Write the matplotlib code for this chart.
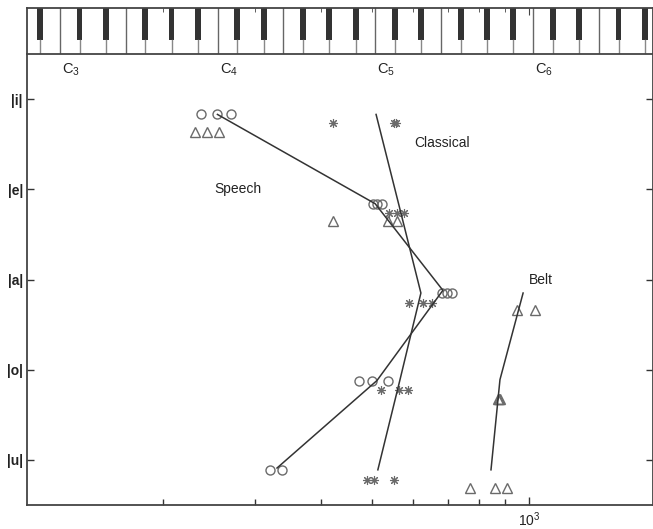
import numpy as np
import matplotlib
matplotlib.use("Agg")
import matplotlib.pyplot as plt
from matplotlib.ticker import FixedLocator, NullFormatter

plt.rcParams['font.family'] = ['Liberation Sans', 'DejaVu Sans']
plt.rcParams['mathtext.default'] = 'regular'

# vowels on the y axis (1 = top)
vowels = ['|i|', '|e|', '|a|', '|o|', '|u|']
vowel_pos = [1, 2, 3, 4, 5]

# row offsets of each group under its vowel
speech_rows = [1.17, 2.16, 3.15, 4.12, 5.11]
classical_rows = [1.27, 2.26, 3.26, 4.23, 5.22]
belt_rows = [1.36, 2.35, 3.34, 4.32, 5.31]

# frequencies (Hz), one list per vowel
speech_f = [[236, 254, 270],
            [503, 512, 523],
            [681, 697, 712],
            [473, 501, 537],
            [320, 337]]
classical_f = [[422, 552, 556],
               [540, 559, 577],
               [589, 627, 652],
               [521, 564, 587],
               [490, 505, 552]]
belt_f = [[230, 243, 256],
          [422, 537, 559],
          [947, 1025],
          [871, 875, 879],
          [770, 860, 907]]

# trend lines (frequency, row)
speech_line_f = [254, 508, 684, 512, 330]
speech_line_y = [1.17, 2.16, 3.12, 4.12, 5.09]
classical_line_f = [510, 563, 621, 566, 514]
classical_line_y = [1.17, 2.16, 3.15, 4.12, 5.11]
belt_line_f = [973, 879, 845]
belt_line_y = [3.15, 4.11, 5.11]

notes = ['C$_3$', 'C$_4$', 'C$_5$', 'C$_6$']
note_f = [130.81, 261.63, 523.25, 1046.5]

fmin, fmax = 110, 1722
W, H = 653, 529
mk = '#6a6a6a'
ln = '#333333'

fig = plt.figure(figsize=(W / 100, H / 100), dpi=100)
ax = fig.add_axes([27 / W, 24 / H, 626 / W, 451 / H])
kb = fig.add_axes([27 / W, (H - 54) / H, 626 / W, 46 / H])

# --- main plot
for fs, rows in zip(speech_f, speech_rows):
    ax.plot(fs, [rows] * len(fs), 'o', ms=6.5, mfc='none', mec=mk, mew=1.0)
for fs, rows in zip(classical_f, classical_rows):
    ax.plot(fs, [rows] * len(fs), ls='none', marker=(8, 2, 0), ms=6.5, mec=mk, mew=0.8)
for fs, rows in zip(belt_f, belt_rows):
    ax.plot(fs, [rows] * len(fs), '^', ms=7.5, mfc='none', mec=mk, mew=1.0)

ax.plot(speech_line_f, speech_line_y, color=ln, lw=1.1)
ax.plot(classical_line_f, classical_line_y, color=ln, lw=1.1)
ax.plot(belt_line_f, belt_line_y, color=ln, lw=1.1)

ax.text(278, 2.0, 'Speech', fontsize=10, ha='center', va='center', color='#222222')
ax.text(681, 1.49, 'Classical', fontsize=10, ha='center', va='center', color='#222222')
ax.text(1053, 3.0, 'Belt', fontsize=10, ha='center', va='center', color='#222222')
for lab, f in zip(notes, note_f):
    ax.text(f * 1.02, 0.67, lab, fontsize=10.5, ha='center', va='center', color='#222222')

ax.set_xscale('log')
ax.set_xlim(fmin, fmax)
ax.set_ylim(5.5, 0.5)
ax.xaxis.set_major_locator(FixedLocator([1000]))
ax.xaxis.set_minor_locator(FixedLocator([200, 300, 400, 500, 600, 700, 800, 900]))
ax.xaxis.set_minor_formatter(NullFormatter())
ax.set_xticklabels(['10$^3$'])
ax.set_yticks(vowel_pos)
ax.set_yticklabels(vowels, fontweight='bold')
ax.tick_params(axis='both', which='both', direction='in', colors='#333333',
               labelsize=10, labelcolor='#222222')
ax.tick_params(axis='x', which='major', length=6, width=1, pad=4)
ax.tick_params(axis='x', which='minor', length=4, width=1)
ax.tick_params(axis='y', length=5, width=1, right=True, pad=3)
ax.spines['top'].set_visible(False)
for s in ['left', 'bottom', 'right']:
    ax.spines[s].set_color('#444444')
    ax.spines[s].set_linewidth(1.3)

# --- keyboard
kb.set_xscale('log')
kb.set_xlim(fmin, fmax)
kb.set_ylim(0, 1)
for m in range(45, 94):
    f = 440 * 2 ** ((m - 69) / 12)
    if m % 12 in (1, 3, 6, 8, 10):
        lo, hi = 440 * 2 ** ((m - 69 - 0.22) / 12), 440 * 2 ** ((m - 69 + 0.22) / 12)
        kb.fill_between([lo, hi], 0.30, 1.0, color='#333333', lw=0)
        kb.plot([f, f], [0, 0.30], color='#888888', lw=1.0)
    if m % 12 in (4, 11):
        fb = 440 * 2 ** ((m - 69 + 0.5) / 12)
        kb.plot([fb, fb], [0, 1], color='#666666', lw=1.0)
kb.xaxis.set_major_locator(FixedLocator([1000]))
kb.xaxis.set_minor_locator(FixedLocator([200, 300, 400, 500, 600, 700, 800, 900]))
kb.xaxis.set_minor_formatter(NullFormatter())
kb.set_xticklabels([])
kb.set_yticks([])
kb.tick_params(axis='x', which='both', direction='in', top=True, bottom=False,
               colors='#444444', labeltop=False, labelbottom=False)
kb.tick_params(axis='x', which='major', length=5)
kb.tick_params(axis='x', which='minor', length=3)
for s in kb.spines.values():
    s.set_color('#444444')
    s.set_linewidth(1.3)

fig.savefig('out.png', dpi=100)
